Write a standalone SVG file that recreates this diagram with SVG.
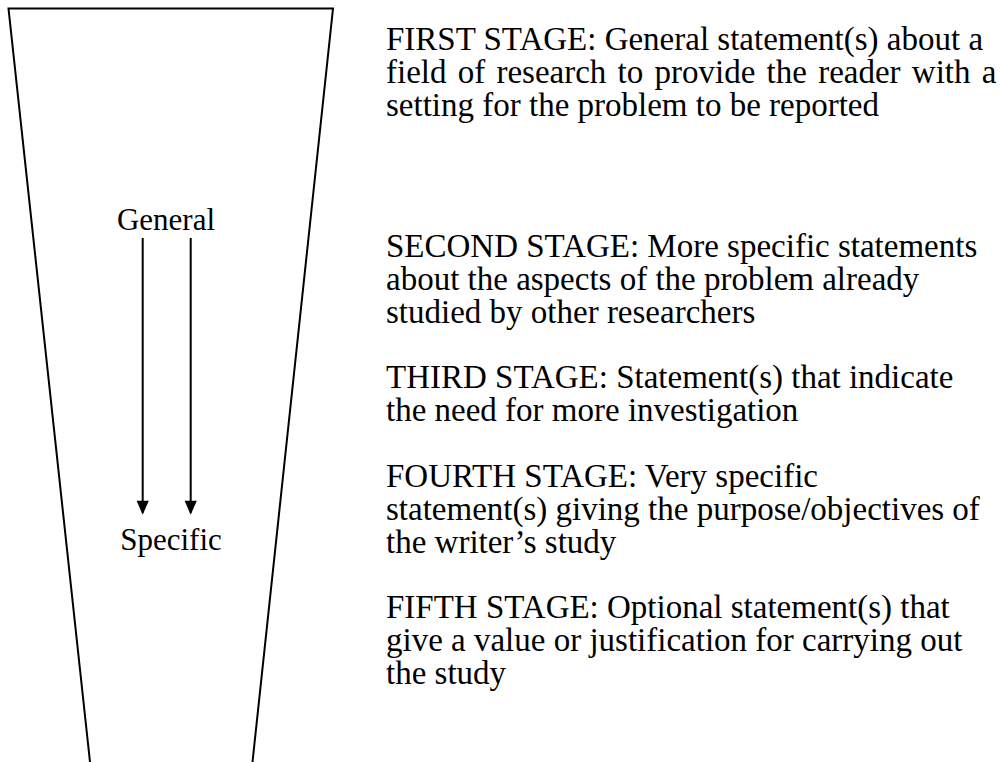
<svg xmlns="http://www.w3.org/2000/svg" width="1006" height="762" viewBox="0 0 1006 762">
  <defs>
    <marker id="head" viewBox="0 0 14 16" refX="14" refY="7" markerWidth="16" markerHeight="14" orient="auto" markerUnits="userSpaceOnUse">
      <path d="M0,0 L16,7 L0,14 z" fill="#000"/>
    </marker>
    <style>
      .txt { font-family: "Liberation Serif", "Times New Roman", serif; font-size: 31px; fill: #000; }
      .stage { font-family: "Liberation Serif", "Times New Roman", serif; font-size: 33px; fill: #000; }
      .edge { stroke: #000; stroke-width: 2; fill: none; }
    </style>
  </defs>
  <rect width="1006" height="762" fill="#fff"/>

  <!-- funnel outline, open at the bottom -->
  <g id="funnel">
    <path class="edge" d="M90,762 L8.5,8.5 L333,8.5 L252.5,762"/>
    <text class="txt" x="166" y="230" text-anchor="middle">General</text>
    <text class="txt" x="171" y="550" text-anchor="middle">Specific</text>
  </g>

  <!-- downward arrows inside the funnel -->
  <g id="connectors">
    <line class="edge" x1="142.7" y1="238" x2="142.7" y2="513" marker-end="url(#head)"/>
    <line class="edge" x1="190.7" y1="238" x2="190.7" y2="513" marker-end="url(#head)"/>
  </g>

  <!-- stage descriptions -->
  <g id="stage1">
    <text class="stage" x="386" y="50">FIRST STAGE: General statement(s) about a</text>
    <text class="stage" x="386" y="83" word-spacing="3">field of research to provide the reader with a</text>
    <text class="stage" x="386" y="116">setting for the problem to be reported</text>
  </g>
  <g id="stage2">
    <text class="stage" x="386" y="257">SECOND STAGE: More specific statements</text>
    <text class="stage" x="386" y="290">about the aspects of the problem already</text>
    <text class="stage" x="386" y="323">studied by other researchers</text>
  </g>
  <g id="stage3">
    <text class="stage" x="386" y="388">THIRD STAGE: Statement(s) that indicate</text>
    <text class="stage" x="386" y="421">the need for more investigation</text>
  </g>
  <g id="stage4">
    <text class="stage" x="386" y="487">FOURTH STAGE: Very specific</text>
    <text class="stage" x="386" y="520">statement(s) giving the purpose/objectives of</text>
    <text class="stage" x="386" y="553">the writer’s study</text>
  </g>
  <g id="stage5">
    <text class="stage" x="386" y="618">FIFTH STAGE: Optional statement(s) that</text>
    <text class="stage" x="386" y="651">give a value or justification for carrying out</text>
    <text class="stage" x="386" y="684">the study</text>
  </g>
</svg>
